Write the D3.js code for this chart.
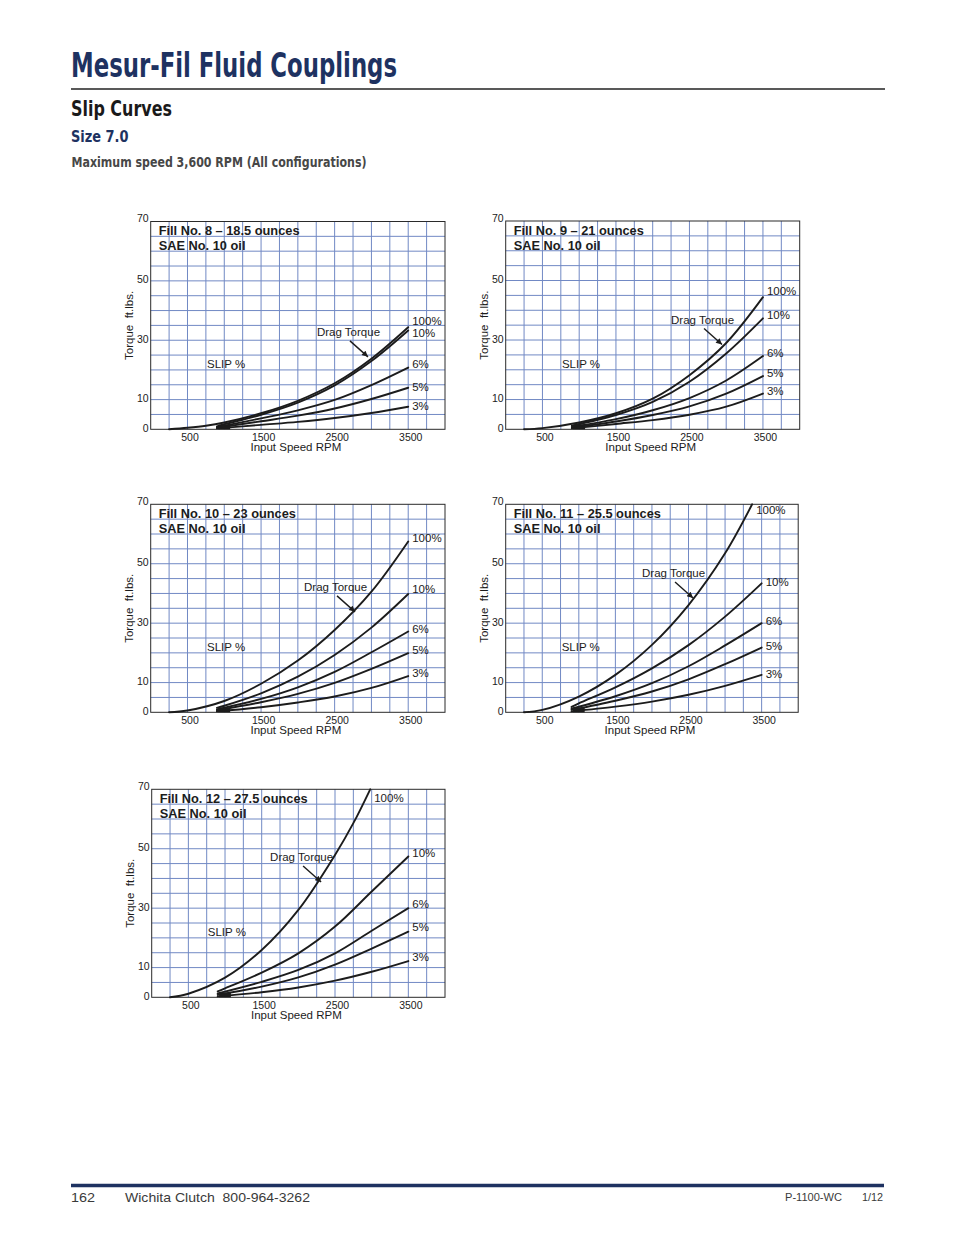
<!DOCTYPE html>
<html>
<head>
<meta charset="utf-8">
<script src="https://cdn.jsdelivr.net/npm/d3@7"></script>
<style>
  body { margin: 0; background: #fff; }
  svg { display: block; }
  text { font-family: "Liberation Sans", Arial, Helvetica, sans-serif; }
  .cond { font-family: "Liberation Sans Narrow", "DejaVu Sans Condensed", "Liberation Sans", sans-serif; }
</style>
</head>
<body>
<svg width="954" height="1235"></svg>
<script>
// ---- data (RPM, torque ft.lbs.) ----
const rpmGrid = d3.range(250, 4000, 250);
const torqueGrid = d3.range(5, 70, 5);
const xTicks = [500, 1500, 2500, 3500];
const yTicks = [0, 10, 30, 50, 70];
const slipLabels = ["100%", "10%", "6%", "5%", "3%"];
const fillTitles = [
  "Fill No. 8 \u2013 18.5 ounces",
  "Fill No. 9 \u2013 21 ounces",
  "Fill No. 10 \u2013 23 ounces",
  "Fill No. 11 \u2013 25.5 ounces",
  "Fill No. 12 \u2013 27.5 ounces"
];
const oilLabel = "SAE No. 10 oil";

const fill8Curves = [
  [[250,0],[500,0.5],[750,1.2],[1000,2.3],[1500,5.4],[2000,9.6],[2500,15.5],[3000,23.8],[3500,34.4]],
  [[900,1.0],[1000,1.7],[1500,4.9],[2000,9.0],[2500,14.8],[3000,23.0],[3500,33.3]],
  [[900,0.7],[1500,3.7],[2000,6.4],[2500,9.9],[3000,14.9],[3500,20.8]],
  [[900,0.5],[1500,2.7],[2000,4.6],[2500,7],[3000,10.2],[3500,14]],
  [[900,0.3],[1500,1.5],[2000,2.5],[2500,3.8],[3000,5.5],[3500,7.6]]
];
const fill9Curves = [
  [[250,0],[500,0.4],[1000,2.3],[1500,5.4],[2000,10.3],[2500,18.2],[3000,29],[3500,44.4]],
  [[900,1.2],[1500,4.8],[2000,9.2],[2500,16.0],[3000,25.5],[3500,37.3]],
  [[900,0.8],[1500,3.4],[2000,6.4],[2500,10.5],[3000,16.4],[3500,24.6]],
  [[900,0.5],[1500,2.6],[2000,4.8],[2500,7.7],[3000,12],[3500,17.9]],
  [[900,0.3],[1500,1.8],[2000,3.1],[2500,4.9],[3000,7.6],[3500,12]]
];
const fill10Curves = [
  [[250,0],[500,0.6],[1000,3.8],[1500,9.6],[2000,17.4],[2500,27.7],[3000,40.6],[3500,57.5]],
  [[900,1.5],[1000,2.2],[1500,6.4],[2000,12],[2500,19.3],[3000,28.5],[3500,39.8]],
  [[900,1],[1500,4.5],[2000,8.4],[2500,13.6],[3000,20.2],[3500,27.2]],
  [[900,0.7],[1500,3.4],[2000,6.2],[2500,9.9],[3000,14.6],[3500,19.9]],
  [[900,0.3],[1500,1.7],[2000,3.3],[2500,5.3],[3000,8.2],[3500,12.2]]
];
const fill11Curves = [
  [[250,0],[500,0.8],[1000,5.3],[1500,12.6],[2000,22.7],[2500,36.1],[3000,53.5],[3370,70]],
  [[900,1.8],[1000,3],[1500,8.4],[2000,14.8],[2500,22.6],[3000,32.2],[3500,43.4]],
  [[900,1.2],[1500,5.4],[2000,9.8],[2500,15.5],[3000,22.5],[3500,30]],
  [[900,0.8],[1500,3.9],[2000,7],[2500,11.1],[3000,16.2],[3500,21.8]],
  [[900,0.3],[1500,1.9],[2000,3.6],[2500,5.9],[3000,8.9],[3500,12.6]]
];
const fill12Curves = [
  [[250,0],[500,1.2],[1000,6.6],[1500,15.9],[2000,29.4],[2500,47.9],[2750,58.6],[2980,70]],
  [[900,2],[1000,3],[1500,8.3],[2000,14.8],[2500,23.8],[3000,35.6],[3500,47.4]],
  [[900,1.3],[1500,5.2],[2000,9.2],[2500,14.8],[3000,22.4],[3500,30]],
  [[900,0.8],[1500,3.6],[2000,6.7],[2500,11.0],[3000,16.4],[3500,22.1]],
  [[900,0.3],[1500,1.7],[2000,3.3],[2500,5.6],[3000,8.6],[3500,12.2]]
];
// torque at which each slip label sits
const labelTorque = [
  [36.5, 32.5, 22, 14.3, 7.9],
  [46.5, 38.5, 25.8, 18.8, 12.8],
  [58.7, 41.5, 28, 21, 13.3],
  [68.1, 43.9, 30.7, 22.3, 12.9],
  [67.1, 48.6, 31.4, 23.6, 13.5]
];
// where the "Drag Torque" arrow points
const dragTips = [[2953, 24.4], [2943, 28.5], [2777, 33.8], [2562, 38.5], [2310, 38.8]];
const slipNote = [765, 22];
const hubRpm = [920, 1080];
const hubTorque = [0, 1.6];

const allCurves = [fill8Curves, fill9Curves, fill10Curves, fill11Curves, fill12Curves];

// ---- layout ----
const boxes = [
  { left: 150.7, top: 221.5, w: 294.3, h: 207.8 },
  { left: 505.7, top: 221.0, w: 294.0, h: 208.3 },
  { left: 150.7, top: 504.3, w: 294.3, h: 208.0 },
  { left: 505.7, top: 504.3, w: 292.5, h: 208.0 },
  { left: 151.7, top: 789.3, w: 293.3, h: 208.0 }
];
const gridColor = "#7189c4";
const ink = "#1c1c1c";
const navy = "#1e3261";

const svg = d3.select("svg");
svg.append("rect").attr("width", 954).attr("height", 1235).attr("fill", "#fff");

// ---- page header ----
svg.append("text").attr("class", "cond")
  .attr("x", 71).attr("y", 77)
  .attr("font-size", 34).attr("font-weight", "bold").attr("fill", navy)
  .attr("textLength", 326).attr("lengthAdjust", "spacingAndGlyphs")
  .text("Mesur-Fil Fluid Couplings");
svg.append("line").attr("x1", 71).attr("x2", 885).attr("y1", 89).attr("y2", 89)
  .attr("stroke", "#222").attr("stroke-width", 1.6);
svg.append("text").attr("class", "cond")
  .attr("x", 71).attr("y", 116)
  .attr("font-size", 21).attr("font-weight", "bold").attr("fill", "#1a1a1a")
  .attr("textLength", 101).attr("lengthAdjust", "spacingAndGlyphs")
  .text("Slip Curves");
svg.append("text").attr("class", "cond")
  .attr("x", 71).attr("y", 142)
  .attr("font-size", 16.5).attr("font-weight", "bold").attr("fill", navy)
  .attr("textLength", 57.5).attr("lengthAdjust", "spacingAndGlyphs")
  .text("Size 7.0");
svg.append("text").attr("class", "cond")
  .attr("x", 71.5).attr("y", 166.5)
  .attr("font-size", 14).attr("font-weight", "bold").attr("fill", "#474747")
  .attr("textLength", 295).attr("lengthAdjust", "spacingAndGlyphs")
  .text("Maximum speed 3,600 RPM (All configurations)");

// ---- footer ----
svg.append("line").attr("x1", 71).attr("x2", 884).attr("y1", 1185.5).attr("y2", 1185.5)
  .attr("stroke", navy).attr("stroke-width", 3.5);
svg.append("text").attr("x", 71).attr("y", 1202).attr("font-size", 13.5).attr("fill", "#3a3a3a")
  .attr("textLength", 24).attr("lengthAdjust", "spacingAndGlyphs").text("162");
svg.append("text").attr("x", 125).attr("y", 1202).attr("font-size", 13.5).attr("fill", "#3a3a3a")
  .attr("textLength", 185).attr("lengthAdjust", "spacingAndGlyphs").attr("xml:space", "preserve")
  .text("Wichita Clutch  800-964-3262");
svg.append("text").attr("x", 785).attr("y", 1201).attr("font-size", 10).attr("fill", "#3a3a3a")
  .attr("textLength", 57).attr("lengthAdjust", "spacingAndGlyphs").text("P-1100-WC");
svg.append("text").attr("x", 862).attr("y", 1201).attr("font-size", 10).attr("fill", "#3a3a3a")
  .attr("textLength", 21).attr("lengthAdjust", "spacingAndGlyphs").text("1/12");

// arrowhead for the drag torque pointer
svg.append("defs").append("marker")
  .attr("id", "arrow")
  .attr("viewBox", "0 -5 10 10")
  .attr("refX", 10)
  .attr("markerWidth", 7).attr("markerHeight", 6)
  .attr("markerUnits", "userSpaceOnUse")
  .attr("orient", "auto")
  .append("path").attr("fill", ink).attr("d", "M0,-5L10,0L0,5Z");

allCurves.forEach((curves, i) => {
  const b = boxes[i];
  const x = d3.scaleLinear([0, 4000], [b.left, b.left + b.w]);
  const y = d3.scaleLinear([0, 70], [b.top + b.h, b.top]);
  const g = svg.append("g");

  // grid
  g.append("g").selectAll("line").data(rpmGrid).join("line")
    .attr("x1", d => x(d)).attr("x2", d => x(d))
    .attr("y1", y(0)).attr("y2", y(70))
    .attr("stroke", gridColor).attr("stroke-width", 1);
  g.append("g").selectAll("line").data(torqueGrid).join("line")
    .attr("y1", d => y(d)).attr("y2", d => y(d))
    .attr("x1", x(0)).attr("x2", x(4000))
    .attr("stroke", gridColor).attr("stroke-width", 1);
  g.append("rect")
    .attr("x", x(0)).attr("y", y(70))
    .attr("width", x(4000) - x(0)).attr("height", y(0) - y(70))
    .attr("fill", "none").attr("stroke", "#2a2a2a").attr("stroke-width", 1);

  // axes (labels only)
  const xa = g.append("g").attr("transform", `translate(0,${y(0) + 1})`)
    .call(d3.axisBottom(x).tickValues(xTicks).tickFormat(d3.format("d")).tickSize(0).tickPadding(3));
  xa.select(".domain").remove();
  xa.selectAll("text").attr("font-size", 10.5).attr("fill", ink)
    .attr("font-family", "Liberation Sans, Arial, sans-serif").attr("dx", 2);
  const ya = g.append("g").attr("transform", `translate(${x(0) - 1},0)`)
    .call(d3.axisLeft(y).tickValues(yTicks).tickSize(0).tickPadding(1));
  ya.select(".domain").remove();
  ya.selectAll("text").attr("font-size", 10.5).attr("fill", ink)
    .attr("font-family", "Liberation Sans, Arial, sans-serif")
    .attr("dy", d => d === 70 ? "0" : d === 0 ? "0.25em" : "0.2em");

  g.append("text")
    .attr("x", (x(0) + x(4000)) / 2 - 2).attr("y", y(0) + 22)
    .attr("text-anchor", "middle").attr("font-size", 11.5).attr("fill", ink)
    .text("Input Speed RPM");
  g.append("text")
    .attr("transform", `translate(${x(0) - 18},${(y(0) + y(70)) / 2}) rotate(-90)`)
    .attr("text-anchor", "middle").attr("font-size", 11.5).attr("fill", ink)
    .attr("xml:space", "preserve")
    .text("Torque  ft.lbs.");

  // fill titles
  g.append("text").attr("x", x(0) + 8).attr("y", y(70) + 13.5)
    .attr("font-size", 12.8).attr("font-weight", "bold").attr("fill", ink)
    .text(fillTitles[i]);
  g.append("text").attr("x", x(0) + 8).attr("y", y(70) + 28.5)
    .attr("font-size", 12.8).attr("font-weight", "bold").attr("fill", ink)
    .text(oilLabel);

  // converging start of the slip curves
  g.append("rect")
    .attr("x", x(hubRpm[0])).attr("y", y(hubTorque[1]))
    .attr("width", x(hubRpm[1]) - x(hubRpm[0]))
    .attr("height", y(hubTorque[0]) - y(hubTorque[1]))
    .attr("fill", ink);

  // curves
  const line = d3.line().x(d => x(d[0])).y(d => y(d[1])).curve(d3.curveCatmullRom.alpha(0.5));
  g.append("g").selectAll("path").data(curves).join("path")
    .attr("d", line)
    .attr("fill", "none").attr("stroke", ink).attr("stroke-width", 1.9)
    .attr("stroke-linecap", "round");

  // slip labels
  g.append("g").selectAll("text").data(curves).join("text")
    .attr("x", d => x(d[d.length - 1][0]) + 4)
    .attr("y", (d, k) => y(labelTorque[i][k]))
    .attr("dy", "0.35em")
    .attr("font-size", 11.5).attr("fill", ink)
    .text((d, k) => slipLabels[k]);

  g.append("text").attr("x", x(slipNote[0])).attr("y", y(slipNote[1])).attr("dy", "0.35em")
    .attr("font-size", 11.5).attr("fill", ink).text("SLIP %");

  // drag torque pointer
  const tx = x(dragTips[i][0]), ty = y(dragTips[i][1]);
  g.append("text").attr("x", tx - 51).attr("y", ty - 25).attr("dy", "0.35em")
    .attr("font-size", 11.5).attr("fill", ink).text("Drag Torque");
  g.append("line")
    .attr("x1", tx - 18).attr("y1", ty - 16).attr("x2", tx).attr("y2", ty)
    .attr("stroke", ink).attr("stroke-width", 1.4)
    .attr("marker-end", "url(#arrow)");
});
</script>
</body>
</html>
